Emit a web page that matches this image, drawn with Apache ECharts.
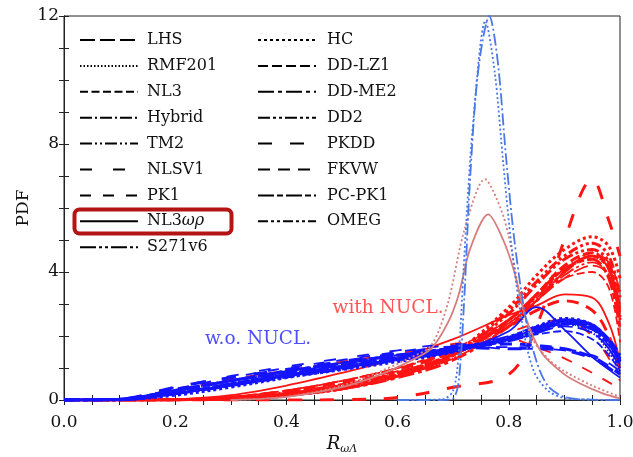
<!DOCTYPE html>
<html>
<head>
<meta charset="utf-8">
<script src="https://cdn.jsdelivr.net/npm/echarts@6/dist/echarts.min.js"></script>
<style>
html, body { margin: 0; padding: 0; background: #fff; }
#PdfChart { width: 633px; height: 457px; }
</style>
</head>
<body>
<div id="PdfChart"></div>
<script>
// model names, legend order (two columns)
const modelsCol1 = ['LHS', 'RMF201', 'NL3', 'Hybrid', 'TM2', 'NLSV1', 'PK1', 'NL3ωρ', 'S271v6'];
const modelsCol2 = ['HC', 'DD-LZ1', 'DD-ME2', 'DD2', 'PKDD', 'FKVW', 'PC-PK1', 'OMEG'];
const models = modelsCol1.concat(modelsCol2);

// sample points on R_wL for the broad curves
const xGrid = [0, 0.1, 0.2, 0.3, 0.4, 0.5, 0.6, 0.7, 0.8, 0.85, 0.9, 0.95, 0.98, 1.0];

// w.o. NUCL. (blue), one row per model
const woNucl = [
  [0, 0.02, 0.30, 0.60, 0.85, 1.10, 1.35, 1.60, 1.90, 2.10, 2.30, 2.10, 1.60, 1.00],
  [0, 0.01, 0.20, 0.50, 0.80, 1.05, 1.30, 1.60, 1.95, 2.20, 2.40, 2.10, 1.50, 0.90],
  [0, 0.02, 0.30, 0.60, 0.90, 1.15, 1.40, 1.65, 1.90, 2.05, 2.15, 1.90, 1.40, 0.90],
  [0, 0.01, 0.20, 0.45, 0.70, 0.95, 1.25, 1.55, 1.90, 2.20, 2.45, 2.30, 1.80, 1.20],
  [0, 0.01, 0.25, 0.50, 0.80, 1.00, 1.30, 1.55, 1.85, 2.10, 2.35, 2.20, 1.70, 1.10],
  [0, 0.03, 0.40, 0.75, 1.05, 1.30, 1.55, 1.75, 1.60, 1.60, 1.55, 1.35, 1.10, 0.85],
  [0, 0.02, 0.35, 0.70, 1.00, 1.25, 1.50, 1.70, 1.65, 1.65, 1.60, 1.40, 1.15, 0.90],
  [0, 0.01, 0.20, 0.45, 0.75, 1.00, 1.25, 1.50, 2.15, 2.90, 2.20, 1.35, 0.95, 0.70],
  [0, 0.01, 0.20, 0.50, 0.75, 1.00, 1.30, 1.60, 2.00, 2.30, 2.50, 2.20, 1.60, 1.00],
  [0, 0.01, 0.15, 0.40, 0.70, 0.95, 1.20, 1.50, 1.95, 2.30, 2.55, 2.35, 1.80, 1.20],
  [0, 0.02, 0.30, 0.60, 0.90, 1.15, 1.40, 1.60, 1.90, 2.15, 2.40, 2.30, 1.90, 1.40],
  [0, 0.01, 0.20, 0.45, 0.75, 1.00, 1.25, 1.55, 1.95, 2.25, 2.50, 2.35, 1.85, 1.25],
  [0, 0.01, 0.20, 0.50, 0.80, 1.05, 1.30, 1.55, 1.90, 2.20, 2.45, 2.30, 1.80, 1.20],
  [0, 0.03, 0.40, 0.70, 0.95, 1.20, 1.45, 1.65, 1.60, 1.60, 1.55, 1.30, 1.00, 0.75],
  [0, 0.02, 0.30, 0.60, 0.85, 1.10, 1.35, 1.60, 1.75, 1.70, 1.60, 1.35, 1.05, 0.80],
  [0, 0.02, 0.30, 0.60, 0.90, 1.15, 1.40, 1.60, 1.85, 2.10, 2.40, 2.25, 1.75, 1.20],
  [0, 0.01, 0.20, 0.50, 0.80, 1.05, 1.30, 1.55, 1.90, 2.20, 2.50, 2.35, 1.85, 1.30]
];

// with NUCL. (red), one row per model
const withNucl = [
  [0, 0, 0.02, 0.10, 0.30, 0.60, 1.00, 1.50, 2.40, 3.10, 3.80, 4.20, 3.90, 2.50],
  [0, 0, 0.01, 0.05, 0.20, 0.45, 0.80, 1.30, 2.30, 3.10, 4.00, 4.50, 4.20, 3.00],
  [0, 0, 0.02, 0.10, 0.30, 0.60, 1.00, 1.60, 2.50, 3.20, 3.80, 4.00, 3.50, 1.80],
  [0, 0, 0.01, 0.05, 0.15, 0.40, 0.75, 1.30, 2.30, 3.10, 4.00, 4.60, 4.30, 3.40],
  [0, 0, 0.01, 0.08, 0.25, 0.50, 0.90, 1.40, 2.40, 3.20, 4.10, 4.50, 4.10, 2.80],
  [0, 0, 0.02, 0.10, 0.30, 0.60, 1.00, 1.50, 2.10, 2.40, 2.50, 2.00, 1.30, 0.60],
  [0, 0.01, 0.35, 0.65, 0.92, 1.20, 1.45, 1.75, 1.90, 1.65, 1.30, 0.85, 0.55, 0.35],
  [0, 0, 0.02, 0.15, 0.45, 0.85, 1.30, 1.90, 2.65, 2.95, 3.30, 3.20, 2.40, 1.20],
  [0, 0, 0.01, 0.06, 0.20, 0.45, 0.85, 1.40, 2.40, 3.10, 3.90, 4.30, 3.90, 2.50],
  [0, 0, 0.01, 0.04, 0.15, 0.35, 0.75, 1.45, 2.90, 3.90, 4.70, 5.10, 4.80, 3.80],
  [0, 0, 0.01, 0.05, 0.20, 0.45, 0.80, 1.40, 2.50, 3.30, 4.20, 4.60, 4.10, 2.50],
  [0, 0, 0.01, 0.04, 0.15, 0.35, 0.70, 1.25, 2.30, 3.10, 4.00, 4.50, 4.10, 2.80],
  [0, 0, 0.01, 0.04, 0.15, 0.35, 0.75, 1.40, 2.70, 3.60, 4.40, 4.70, 4.30, 2.60],
  [0, 0, 0, 0, 0, 0.01, 0.08, 0.40, 0.80, 2.30, 5.00, 6.90, 5.60, 4.50],
  [0, 0, 0.01, 0.08, 0.25, 0.55, 0.95, 1.50, 2.30, 2.80, 3.10, 2.80, 2.00, 0.90],
  [0, 0, 0.01, 0.05, 0.20, 0.45, 0.85, 1.45, 2.50, 3.30, 4.10, 4.40, 3.80, 2.20],
  [0, 0, 0.01, 0.04, 0.15, 0.35, 0.75, 1.40, 2.80, 3.70, 4.50, 4.90, 4.50, 3.20]
];

// narrow peaked curves (light blue / light red)
const lightBlueDashDot = [[0.6, 0], [0.68, 0], [0.70, 0.05], [0.71, 0.6], [0.72, 3.2], [0.73, 6.8], [0.745, 10.3], [0.765, 12.0], [0.78, 10.6], [0.795, 7.6], [0.81, 5.0], [0.83, 2.6], [0.85, 1.2], [0.87, 0.45], [0.9, 0.1], [0.95, 0.01], [1.0, 0]];
const lightBlueDotted = [[0.6, 0], [0.68, 0.02], [0.70, 0.3], [0.71, 1.5], [0.72, 4.5], [0.735, 8.5], [0.758, 11.85], [0.775, 10.2], [0.79, 7.4], [0.805, 4.8], [0.825, 2.3], [0.845, 0.9], [0.87, 0.3], [0.9, 0.06], [0.95, 0.01], [1.0, 0]];
const lightRedSolid = [[0.3, 0], [0.4, 0.1], [0.5, 0.4], [0.57, 0.8], [0.62, 1.2], [0.66, 1.6], [0.69, 2.4], [0.71, 3.3], [0.73, 4.7], [0.763, 5.8], [0.79, 5.0], [0.81, 4.0], [0.83, 2.6], [0.86, 1.45], [0.9, 0.8], [0.93, 0.5], [0.97, 0.2], [1.0, 0.05]];
const lightRedDotted = [[0.3, 0], [0.4, 0.1], [0.5, 0.45], [0.57, 0.9], [0.62, 1.3], [0.66, 1.7], [0.69, 3.0], [0.72, 5.3], [0.757, 6.9], [0.785, 6.0], [0.80, 5.1], [0.82, 3.3], [0.84, 2.0], [0.87, 1.3], [0.9, 0.9], [0.95, 0.45], [1.0, 0.1]];

// text labels placed in data coordinates
const notes = [
  { text: 'w.o. NUCL.', at: [0.349, 1.9], color: '#2222ff' },
  { text: 'with NUCL.', at: [0.583, 2.87], color: '#ff2a2a' }
];

// line styles per model
const dashes = [[15, 5], [1.5, 2], [8, 3.5], [12, 3, 2, 3], [12, 3, 2, 3, 2, 3], [12, 21], [11, 12], 'solid', [16, 3, 3, 3, 3, 3],
  [3, 3], [10, 4], [16, 4, 4, 4], [12, 3, 3, 3, 3, 3], [14, 18], [12, 8], [16, 3, 6, 3], [10, 3, 3, 3, 3, 3]];
const widths = models.map((m, i) => i < 9 ? 1.8 : 3);

const FONT = "'DejaVu Serif', 'Liberation Serif', serif";
const BLUE = '#1414ff';
const RED = '#ff1414';

const myChart = echarts.init(document.getElementById('PdfChart'));

const curve = (name, ys, color, i) => ({
  name: name,
  type: 'line',
  data: xGrid.map((x, k) => [x, ys[k]]),
  smooth: 0.35,
  showSymbol: false,
  symbol: 'none',
  clip: true,
  silent: true,
  animation: false,
  lineStyle: { color: color, width: widths[i], type: dashes[i], cap: 'butt' }
});

const peak = (name, pts, color, type) => ({
  name: name,
  type: 'line',
  data: pts,
  smooth: 0.3,
  symbol: 'none',
  clip: true,
  silent: true,
  animation: false,
  lineStyle: { color: color, width: 1.8, type: type }
});

const series = [];
withNucl.forEach((ys, i) => series.push(curve(models[i] + ' with', ys, RED, i)));
woNucl.forEach((ys, i) => series.push(curve(models[i] + ' wo', ys, BLUE, i)));
series.push(peak('peak r1', lightRedSolid, '#d67c7c', 'solid'));
series.push(peak('peak r2', lightRedDotted, '#d67c7c', [2, 2.5]));
series.push(peak('peak b1', lightBlueDotted, '#4a78e6', [2, 2.5]));
series.push(peak('peak b2', lightBlueDashDot, '#4a78e6', [12, 3, 2, 3]));

// black legend-only series
models.forEach((m, i) => series.push({
  name: m,
  type: 'line',
  data: [],
  symbol: 'none',
  symbolSize: 0,
  color: '#000',
  itemStyle: { opacity: 0 },
  lineStyle: { color: '#000', width: widths[i], type: dashes[i], cap: 'butt' }
}));

// annotations
notes.forEach(n => series.push({
  type: 'scatter',
  data: [n.at],
  symbolSize: 0,
  silent: true,
  label: {
    show: true,
    position: 'inside',
    formatter: n.text,
    color: n.color,
    fontFamily: FONT,
    fontSize: 18.5
  }
}));

const legendText = {
  fontFamily: FONT,
  fontSize: 16,
  color: '#111',
  lineHeight: 18,
  rich: {
    n: { fontFamily: FONT, fontSize: 16, color: '#111' },
    g: { fontFamily: FONT, fontSize: 16, color: '#111', fontStyle: 'italic' }
  }
};
const fmt = name => name === 'NL3ωρ' ? '{n|NL3}{g|ωρ}' : name;

const tickStyle = { show: true, inside: true, length: 5, lineStyle: { color: '#222' } };
const minorStyle = { show: true, splitNumber: 4, length: 5, lineStyle: { color: '#222' } };

const option = {
  animation: false,
  grid: {
    left: 64, right: 13, top: 16, bottom: 57,
    outerBoundsMode: 'none', containLabel: false,
    show: true, borderColor: '#222', borderWidth: 1
  },
  legend: [
    {
      data: modelsCol1, orient: 'vertical', left: 79, top: 31, padding: 0,
      itemWidth: 58, itemHeight: 14, itemGap: 7.9,
      itemStyle: { opacity: 0 },
      textStyle: Object.assign({ padding: [0, 0, 0, 4] }, legendText),
      formatter: fmt, selectedMode: false
    },
    {
      data: modelsCol2, orient: 'vertical', left: 257, top: 31, padding: 0,
      itemWidth: 58, itemHeight: 14, itemGap: 7.9,
      itemStyle: { opacity: 0 },
      textStyle: Object.assign({ padding: [0, 0, 0, 6] }, legendText),
      selectedMode: false
    }
  ],
  xAxis: [
    {
      type: 'value', min: 0, max: 1, interval: 0.2,
      name: '{r|R}{s|ωΛ}', nameLocation: 'middle', nameGap: 34, nameMoveOverlap: false,
      nameTextStyle: {
        rich: {
          r: { fontFamily: FONT, fontSize: 18, fontStyle: 'italic', color: '#111' },
          s: { fontFamily: FONT, fontSize: 11, fontStyle: 'italic', color: '#111', padding: [10, 0, 0, 0] }
        }
      },
      axisLine: { show: true, lineStyle: { color: '#222' } },
      axisTick: tickStyle,
      minorTick: minorStyle,
      axisLabel: { fontFamily: FONT, fontSize: 17, color: '#111', margin: 14, formatter: v => v.toFixed(1) },
      splitLine: { show: false }
    },
    {
      type: 'value', min: 0, max: 1, interval: 0.2, position: 'top',
      axisLine: { show: true, lineStyle: { color: '#222' } },
      axisTick: tickStyle,
      minorTick: minorStyle,
      axisLabel: { show: false },
      splitLine: { show: false }
    }
  ],
  yAxis: [
    {
      type: 'value', min: 0, max: 12, interval: 4,
      name: 'PDF', nameLocation: 'middle', nameGap: 32, nameRotate: 90, nameMoveOverlap: false,
      nameTextStyle: { fontFamily: FONT, fontSize: 17, color: '#111' },
      axisLine: { show: true, lineStyle: { color: '#222' } },
      axisTick: tickStyle,
      minorTick: minorStyle,
      axisLabel: { fontFamily: FONT, fontSize: 17, color: '#111', margin: 5, padding: [5, 0, 0, 0] },
      splitLine: { show: false }
    },
    {
      type: 'value', min: 0, max: 12, interval: 4, position: 'right',
      axisLine: { show: true, lineStyle: { color: '#222' } },
      axisTick: tickStyle,
      minorTick: minorStyle,
      axisLabel: { show: false },
      splitLine: { show: false }
    }
  ],
  graphic: [
    {
      type: 'rect', left: 72, top: 207, z: 100,
      shape: { width: 157, height: 24, r: 5 },
      style: { fill: 'none', stroke: '#b41414', lineWidth: 4 }
    }
  ],
  series: series
};

myChart.setOption(option);
</script>
</body>
</html>
